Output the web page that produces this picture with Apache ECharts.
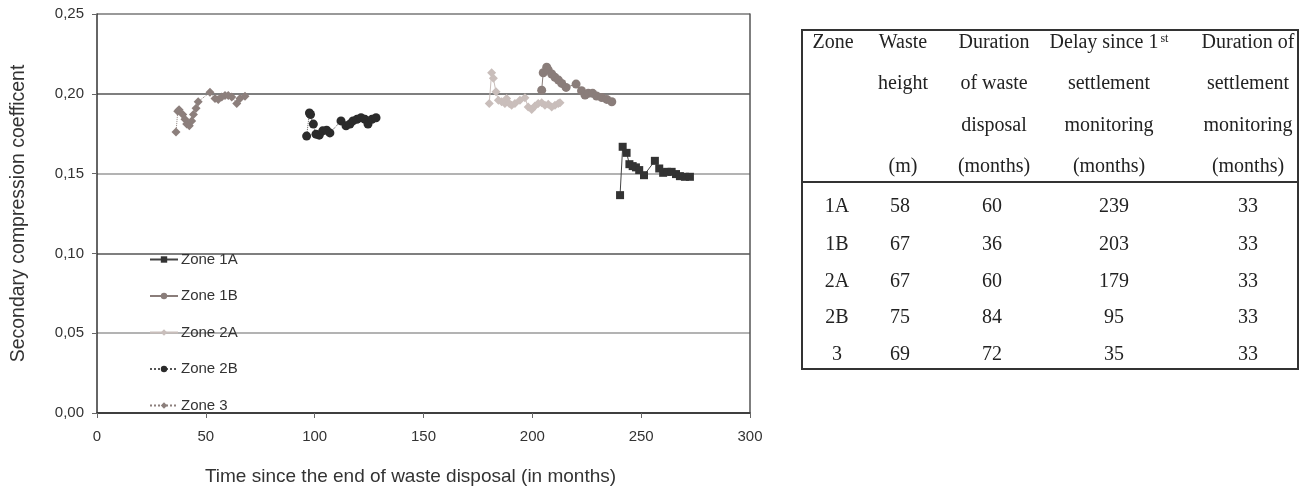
<!DOCTYPE html>
<html>
<head>
<meta charset="utf-8">
<script src="https://cdn.jsdelivr.net/npm/echarts@6/dist/echarts.min.js"></script>
<style>
html,body{margin:0;padding:0;background:#fff;}
#main{width:1310px;height:486px;}
</style>
</head>
<body>
<div id="main"></div>
<script>
// ---- data ----
const seriesNames = ['Zone 1A', 'Zone 1B', 'Zone 2A', 'Zone 2B', 'Zone 3'];
const zone1A = [[240.3,0.1365],[241.5,0.1668],[243.3,0.163],[244.6,0.1559],[246.1,0.1547],[247.6,0.1539],[249.1,0.1522],[251.3,0.149],[256.3,0.158],[258.3,0.1532],[260.1,0.1505],[261.9,0.1511],[264.0,0.1511],[266.0,0.1497],[267.8,0.1484],[270.1,0.148],[272.4,0.148]];
const zone1B = [[204.3,0.2023],[205.0,0.2132],[206.6,0.2166],[207.3,0.2149],[208.9,0.2124],[210.4,0.2103],[212.0,0.2086],[213.5,0.2065],[215.5,0.204],[220.1,0.2061],[222.6,0.2019],[224.2,0.1992],[225.7,0.2003],[227.7,0.2003],[229.5,0.1986],[231.9,0.1977],[234.2,0.1965],[236.5,0.195]];
const zone2A = [[180.2,0.194],[181.3,0.2132],[182.1,0.2097],[183.3,0.2013],[184.4,0.196],[185.9,0.195],[187.4,0.194],[188.2,0.1971],[189.4,0.194],[190.5,0.1929],[192.0,0.194],[194.3,0.196],[196.6,0.1975],[198.1,0.1918],[199.7,0.1902],[201.2,0.1923],[202.7,0.194],[204.3,0.1944],[205.8,0.1929],[207.3,0.1935],[208.9,0.1918],[210.4,0.1929],[211.9,0.194],[212.7,0.1944]];
const zone2B = [[96.3,0.1735],[97.6,0.188],[98.1,0.187],[99.4,0.181],[100.6,0.1747],[102.1,0.1741],[103.7,0.1768],[105.5,0.1772],[107.0,0.1755],[112.1,0.183],[114.4,0.180],[116.2,0.181],[117.6,0.183],[119.4,0.184],[121.3,0.185],[123.1,0.184],[124.5,0.181],[126.3,0.184],[128.2,0.185]];
const zone3 = [[36.3,0.176],[37.1,0.189],[37.7,0.190],[39.4,0.187],[40.4,0.184],[41.2,0.181],[42.4,0.180],[43.5,0.183],[44.3,0.187],[45.5,0.191],[46.5,0.195],[51.9,0.201],[54.2,0.197],[55.7,0.1965],[57.3,0.198],[58.8,0.199],[60.3,0.199],[61.9,0.198],[64.2,0.194],[65.7,0.197],[68.0,0.1985]];
const xTicks = [0, 50, 100, 150, 200, 250, 300];
const yTicks = ['0,00', '0,05', '0,10', '0,15', '0,20', '0,25'];
const xTitle = 'Time since the end of waste disposal (in months)';
const yTitle = 'Secondary compression coefficent';

const tableHeader = [
  ['Zone', 'Waste', 'Duration', 'Delay since 1{sup|st}', 'Duration of'],
  ['', 'height', 'of waste', 'settlement', 'settlement'],
  ['', '', 'disposal', 'monitoring', 'monitoring'],
  ['', '(m)', '(months)', '(months)', '(months)']
];
const tableZones = ['1A', '1B', '2A', '2B', '3'];
const tableHeight = ['58', '67', '67', '75', '69'];
const tableDisposal = ['60', '36', '60', '84', '72'];
const tableDelay = ['239', '203', '179', '95', '35'];
const tableMonitoring = ['33', '33', '33', '33', '33'];

// ---- layout / style ----
const chart = echarts.init(document.getElementById('main'), null, {renderer: 'canvas'});
const sans = '"Liberation Sans", Arial, sans-serif';
const serif = '"Liberation Serif", "Times New Roman", serif';

const styles = [
  {color: '#333333', symbol: 'rect', size: 8, line: '#444444', type: 'solid'},
  {color: '#8a7d7a', symbol: 'circle', size: 9, line: '#8a7d7a', type: 'solid'},
  {color: '#c9bebb', symbol: 'diamond', size: 9, line: '#c9bebb', type: 'solid'},
  {color: '#2b2b2b', symbol: 'circle', size: 9, line: '#555555', type: 'dotted'},
  {color: '#8c7f7c', symbol: 'diamond', size: 9, line: '#8c7f7c', type: 'dotted'}
];
const allData = [zone1A, zone1B, zone2A, zone2B, zone3];

const series = allData.map((d, i) => ({
  name: seriesNames[i],
  type: 'line',
  data: d,
  symbol: styles[i].symbol,
  symbolSize: styles[i].size,
  showAllSymbol: true,
  itemStyle: {color: styles[i].color},
  lineStyle: {color: styles[i].line, width: 1, type: styles[i].type},
  emphasis: {disabled: true},
  animation: false
}));

// table graphics
const colX = [833, 903, 994, 1109, 1248];
const headerY = [43, 84, 126, 167];
const rowY = [207, 245, 282, 318, 355];
const rowColX = [837, 900, 992, 1114, 1248];
const graphics = [];
graphics.push({type: 'rect', shape: {x: 802, y: 30, width: 496, height: 339}, style: {fill: 'none', stroke: '#333', lineWidth: 2}});
graphics.push({type: 'line', shape: {x1: 802, y1: 182, x2: 1298, y2: 182}, style: {stroke: '#333', lineWidth: 2}});
tableHeader.forEach((row, r) => {
  row.forEach((txt, c) => {
    if (!txt) return;
    graphics.push({type: 'text', x: colX[c], y: headerY[r], style: {
      text: txt, font: '20px ' + serif, fill: '#222', align: 'center', verticalAlign: 'middle',
      rich: {sup: {font: '12px ' + serif, fill: '#222', verticalAlign: 'top', padding: [0, 0, 5, 2]}}
    }});
  });
});
const tableCols = [tableZones, tableHeight, tableDisposal, tableDelay, tableMonitoring];
tableCols.forEach((col, c) => {
  col.forEach((txt, r) => {
    graphics.push({type: 'text', x: rowColX[c], y: rowY[r], style: {
      text: txt, font: '20px ' + serif, fill: '#222', align: 'center', verticalAlign: 'middle'
    }});
  });
});

const option = {
  backgroundColor: '#fff',
  animation: false,
  grid: {left: 97, right: 560, top: 14, bottom: 73, containLabel: false, outerBoundsMode: 'none'},
  legend: {
    orient: 'vertical', left: 144, top: 247, itemGap: 21.5,
    itemWidth: 28, itemHeight: 8,
    textStyle: {fontFamily: sans, fontSize: 15, color: '#333', padding: [0,0,0,-2]},
    data: seriesNames
  },
  xAxis: {
    type: 'value', min: 0, max: 300, interval: 50,
    axisLine: {show: true, lineStyle: {color: '#333', width: 1.5}},
    axisTick: {show: true, inside: false, length: 5, lineStyle: {color: '#666'}},
    axisLabel: {fontFamily: sans, fontSize: 15, color: '#333', margin: 16,
      formatter: v => String(xTicks[xTicks.indexOf(v)])},
    splitLine: {show: false},
    name: xTitle, nameLocation: 'middle', nameGap: 54,
    nameTextStyle: {fontFamily: sans, fontSize: 19, color: '#333', padding: [0, 26, 0, 0]}
  },
  yAxis: [{
    type: 'value', min: 0, max: 0.25, interval: 0.05,
    axisLine: {show: true, lineStyle: {color: '#333', width: 1.5}},
    axisTick: {show: true, inside: false, length: 5, lineStyle: {color: '#666'}},
    axisLabel: {fontFamily: sans, fontSize: 15, color: '#333', margin: 13,
      formatter: v => yTicks[Math.round(v / 0.05)]},
    splitLine: {show: true, lineStyle: {color: ['#333', '#9a9a9a', '#555', '#9a9a9a', '#555', '#777'], width: 1.5}},
    name: yTitle, nameLocation: 'middle', nameGap: 68, nameRotate: 90,
    nameTextStyle: {fontFamily: sans, fontSize: 19.5, color: '#333'}
  }, {
    type: 'value', min: 0, max: 0.25, interval: 0.05, position: 'right',
    axisLine: {show: true, lineStyle: {color: '#555', width: 1.5}},
    axisTick: {show: false}, axisLabel: {show: false}, splitLine: {show: false}
  }],
  series: series,
  graphic: graphics
};
chart.setOption(option);
</script>
</body>
</html>
